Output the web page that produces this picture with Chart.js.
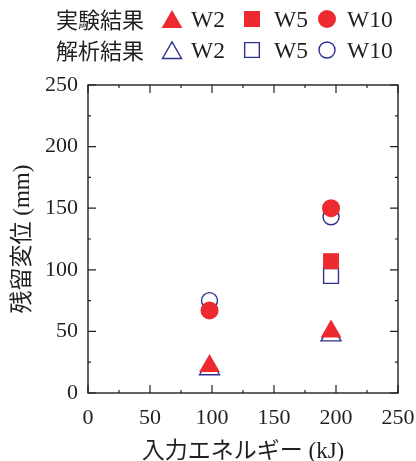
<!DOCTYPE html>
<html>
<head>
<meta charset="utf-8">
<script src="https://cdn.jsdelivr.net/npm/chart.js@4/dist/chart.umd.min.js"></script>
<style>
  html, body { margin: 0; padding: 0; background: #fff; }
  #wrap { width: 416px; height: 461px; }
</style>
</head>
<body>
<div id="wrap"><canvas id="graficoResidual"></canvas></div>
<script>
// 入力エネルギー (kJ)
const energia = [98, 196];

// 実験結果 (mm)
const expW2 = [22, 50];
const expW5 = [null, 107];
const expW10 = [67, 150];

// 解析結果 (mm)
const anaW2 = [19.5, 47];
const anaW5 = [null, 95];
const anaW10 = [75, 143];

const xTicks = [0, 50, 100, 150, 200, 250];
const yTicks = [0, 50, 100, 150, 200, 250];

const RED = "#ec2a2f";
const BLUE = "#2e3192";
const SERIF = "'Liberation Serif', 'Times New Roman', 'Noto Sans CJK JP', serif";

function toPoints(values) {
  const pts = [];
  values.forEach((v, i) => {
    if (v !== null) pts.push({ x: energia[i], y: v });
  });
  return pts;
}

function serie(label, values, style, radius, filled) {
  return {
    label: label,
    data: toPoints(values),
    pointStyle: style,
    pointRadius: radius,
    pointHoverRadius: radius,
    pointBackgroundColor: filled ? RED : "rgba(0,0,0,0)",
    pointBorderColor: filled ? RED : BLUE,
    pointBorderWidth: filled ? 0 : 1.4,
    showLine: false,
  };
}

// frame + inward ticks on all four sides
const framePlugin = {
  id: "frame",
  afterDatasetsDraw(chart) {
    const { ctx, chartArea: a, scales } = chart;
    ctx.save();
    ctx.strokeStyle = "#231f20";
    ctx.lineWidth = 1.4;
    ctx.strokeRect(a.left, a.top, a.right - a.left, a.bottom - a.top);
    ctx.lineWidth = 1.2;
    for (let v = 0; v <= 250; v += 25) {
      const len = v % 50 === 0 ? 8 : 3;
      const px = scales.x.getPixelForValue(v);
      const py = scales.y.getPixelForValue(v);
      ctx.beginPath();
      ctx.moveTo(px, a.bottom); ctx.lineTo(px, a.bottom - len);
      ctx.moveTo(px, a.top); ctx.lineTo(px, a.top + len);
      ctx.moveTo(a.left, py); ctx.lineTo(a.left + len, py);
      ctx.moveTo(a.right, py); ctx.lineTo(a.right - len, py);
      ctx.stroke();
    }
    ctx.restore();
  },
};

// two-row legend at the top
const legendPlugin = {
  id: "legendRows",
  afterDraw(chart) {
    const ctx = chart.ctx;
    const rows = [
      { label: "実験結果", y: 19, filled: true },
      { label: "解析結果", y: 50, filled: false },
    ];
    const items = [
      { style: "triangle", r: 12, mx: 172, tx: 191, text: "W2" },
      { style: "rect", r: 11.3, mx: 252, tx: 274, text: "W5" },
      { style: "circle", r: 9, mx: 327, tx: 347, text: "W10" },
    ];
    ctx.save();
    ctx.textBaseline = "middle";
    rows.forEach((row) => {
      ctx.font = "22px 'Noto Sans CJK JP'";
      ctx.fillStyle = "#231f20";
      ctx.textAlign = "right";
      ctx.fillText(row.label, 144, row.y + 1);
      ctx.textAlign = "left";
      items.forEach((it) => {
        const r = row.filled ? it.r : (it.style === "circle" ? 8 : it.r * 0.92);
        const my = it.style === "triangle" ? row.y + 3 : row.y;
        ctx.fillStyle = row.filled ? RED : "rgba(0,0,0,0)";
        ctx.strokeStyle = row.filled ? RED : BLUE;
        ctx.lineWidth = row.filled ? 0.01 : 1.4;
        Chart.helpers.drawPoint(ctx, { pointStyle: it.style, radius: r, borderWidth: ctx.lineWidth }, it.mx, my);
        ctx.fillStyle = "#231f20";
        ctx.font = "23.5px 'Liberation Serif', 'Times New Roman'";
        ctx.fillText(it.text, it.tx, row.y + 2);
      });
    });
    ctx.restore();
  },
};

const ctx = document.getElementById("graficoResidual").getContext("2d");

new Chart(ctx, {
  type: "scatter",
  data: {
    datasets: [
      serie("実験結果 W10", expW10, "circle", 9, true),
      serie("実験結果 W5", expW5, "rect", 11.3, true),
      serie("実験結果 W2", expW2, "triangle", 12, true),
      serie("解析結果 W10", anaW10, "circle", 8, false),
      serie("解析結果 W5", anaW5, "rect", 10.5, false),
      serie("解析結果 W2", anaW2, "triangle", 11.5, false),
    ],
  },
  options: {
    responsive: true,
    maintainAspectRatio: false,
    animation: false,
    layout: { padding: { left: 0, top: 85, right: 0, bottom: 0 } },
    scales: {
      x: {
        type: "linear",
        min: 0,
        max: 250,
        afterFit: (s) => { s.height = 68; s.paddingRight = 18; },
        afterBuildTicks: (s) => { s.ticks = xTicks.map((v) => ({ value: v })); },
        grid: { display: false, drawTicks: false },
        border: { display: false },
        ticks: {
          color: "#231f20",
          padding: 12,
          font: { family: SERIF, size: 22 },
        },
        title: {
          display: true,
          text: "入力エネルギー (kJ)",
          color: "#231f20",
          padding: { top: 0, bottom: -5 },
          font: { family: SERIF, size: 23 },
        },
      },
      y: {
        type: "linear",
        min: 0,
        max: 250,
        afterFit: (s) => { s.width = 88; },
        afterBuildTicks: (s) => { s.ticks = yTicks.map((v) => ({ value: v })); },
        grid: { display: false, drawTicks: false },
        border: { display: false },
        ticks: {
          color: "#231f20",
          padding: 10,
          font: { family: SERIF, size: 22 },
        },
        title: {
          display: true,
          text: "残留変位 (mm)",
          color: "#231f20",
          padding: { top: 9, bottom: 0 },
          font: { family: SERIF, size: 23 },
        },
      },
    },
    plugins: {
      legend: { display: false },
      title: { display: false },
      tooltip: { enabled: false },
    },
  },
  plugins: [framePlugin, legendPlugin],
});
</script>
</body>
</html>
